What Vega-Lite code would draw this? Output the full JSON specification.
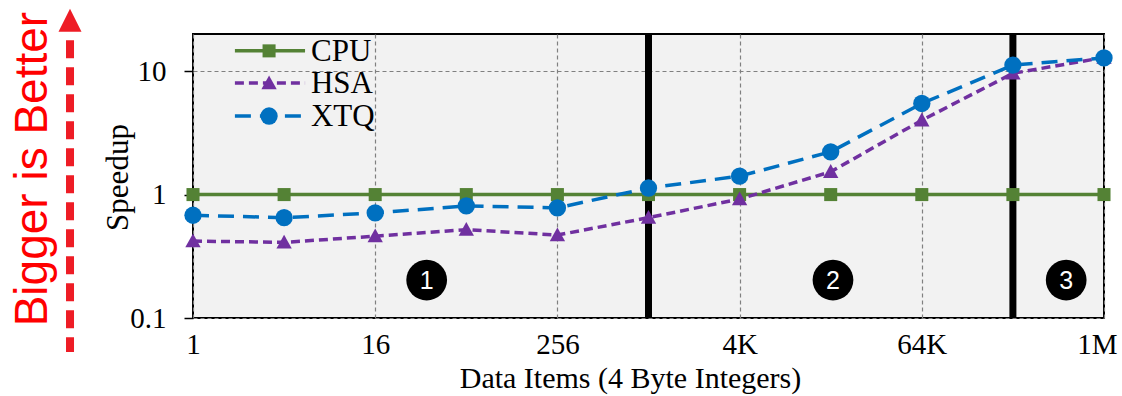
{
  "$schema": "https://vega.github.io/schema/vega-lite/v6.json",
  "width": 911,
  "height": 284,
  "autosize": "none",
  "padding": {"left": 193, "top": 34, "right": 18, "bottom": 78},
  "background": "white",
  "config": {
    "view": {"fill": "#F2F2F2", "stroke": "black", "strokeWidth": 2},
    "font": "Liberation Serif"
  },
  "datasets": {
    "series": [
      {"s": "CPU", "n": 0, "v": 1}, {"s": "CPU", "n": 2, "v": 1}, {"s": "CPU", "n": 4, "v": 1},
      {"s": "CPU", "n": 6, "v": 1}, {"s": "CPU", "n": 8, "v": 1}, {"s": "CPU", "n": 10, "v": 1},
      {"s": "CPU", "n": 12, "v": 1}, {"s": "CPU", "n": 14, "v": 1}, {"s": "CPU", "n": 16, "v": 1},
      {"s": "CPU", "n": 18, "v": 1}, {"s": "CPU", "n": 20, "v": 1},
      {"s": "HSA", "n": 0, "v": 0.42}, {"s": "HSA", "n": 2, "v": 0.41}, {"s": "HSA", "n": 4, "v": 0.46},
      {"s": "HSA", "n": 6, "v": 0.52}, {"s": "HSA", "n": 8, "v": 0.47}, {"s": "HSA", "n": 10, "v": 0.65},
      {"s": "HSA", "n": 12, "v": 0.92}, {"s": "HSA", "n": 14, "v": 1.53}, {"s": "HSA", "n": 16, "v": 4.0},
      {"s": "HSA", "n": 18, "v": 9.6}, {"s": "HSA", "n": 20, "v": 12.9},
      {"s": "XTQ", "n": 0, "v": 0.68}, {"s": "XTQ", "n": 2, "v": 0.65}, {"s": "XTQ", "n": 4, "v": 0.71},
      {"s": "XTQ", "n": 6, "v": 0.81}, {"s": "XTQ", "n": 8, "v": 0.78}, {"s": "XTQ", "n": 10, "v": 1.13},
      {"s": "XTQ", "n": 12, "v": 1.41}, {"s": "XTQ", "n": 14, "v": 2.22}, {"s": "XTQ", "n": 16, "v": 5.47},
      {"s": "XTQ", "n": 18, "v": 11.2}, {"s": "XTQ", "n": 20, "v": 12.8}
    ],
    "bounds": [{"n": 10, "v": 0.1, "v2": 20}, {"n": 18, "v": 0.1, "v2": 20}],
    "regions": [
      {"n": 5.13, "v": 0.203, "label": "1"},
      {"n": 14.05, "v": 0.203, "label": "2"},
      {"n": 19.17, "v": 0.203, "label": "3"}
    ],
    "legendLines": [
      {"s": "CPU", "n": 0.92, "n2": 2.46, "v": 14.6},
      {"s": "HSA", "n": 0.92, "n2": 2.46, "v": 8.0},
      {"s": "XTQ", "n": 0.92, "n2": 2.46, "v": 4.33}
    ],
    "legendMarks": [
      {"s": "CPU", "n": 1.67, "v": 14.6},
      {"s": "HSA", "n": 1.67, "v": 8.0},
      {"s": "XTQ", "n": 1.67, "v": 4.33}
    ],
    "legendText": [
      {"s": "CPU", "n": 2.59, "v": 14.6},
      {"s": "HSA", "n": 2.59, "v": 8.0},
      {"s": "XTQ", "n": 2.59, "v": 4.33}
    ],
    "note": [{"n": -3.205, "v": 1.609, "text": "Bigger is Better"}],
    "arrow": [{"n": -2.7, "v": 17.8, "v2": 0.0531}],
    "arrowTip": [{"n": -2.7, "v": 25.9}]
  },
  "encoding": {
    "x": {
      "field": "n", "type": "quantitative",
      "scale": {"domain": [0, 20], "nice": false, "zero": false},
      "axis": {
        "values": [0, 4, 8, 12, 16, 20],
        "labelExpr": "datum.value == 0 ? '1' : datum.value == 4 ? '16' : datum.value == 8 ? '256' : datum.value == 12 ? '4K' : datum.value == 16 ? '64K' : '1M'",
        "labelFlush": false, "labelOverlap": false, "labelBound": false,
        "labelOffset": {"condition": {"test": "datum.value == 20", "value": -7}, "value": 0},
        "grid": true, "gridDash": [4, 3], "gridColor": "#808080", "gridWidth": 1.2,
        "ticks": false, "domain": false,
        "labelFontSize": 29, "labelColor": "black", "labelPadding": 12,
        "title": "Data Items (4 Byte Integers)", "titleFontSize": 30, "titleFontWeight": "normal",
        "titleColor": "black", "titleBaseline": "alphabetic", "titleY": 69, "titleX": 437
      }
    },
    "y": {
      "field": "v", "type": "quantitative",
      "scale": {"type": "log", "domain": [0.1, 20], "nice": false},
      "axis": {
        "values": [0.1, 1, 10],
        "labelExpr": "datum.value < 0.5 ? '0.1' : datum.value < 5 ? '1' : '10'",
        "grid": true, "gridDash": [4, 3], "gridColor": "#808080", "gridWidth": 1.2,
        "tickSize": 9, "tickColor": "black", "tickWidth": 1.5, "domain": false,
        "labelFontSize": 29, "labelColor": "black", "labelPadding": 18,
        "title": "Speedup", "titleFontSize": 31, "titleFontWeight": "normal", "titleColor": "black",
        "titleAngle": 270, "titleBaseline": "alphabetic", "titleAlign": "center", "titleX": -66, "titleY": 143
      }
    }
  },
  "layer": [
    {
      "data": {"name": "bounds"},
      "mark": {"type": "rule", "color": "black", "strokeWidth": 7},
      "encoding": {"y2": {"field": "v2"}}
    },
    {
      "data": {"name": "series"},
      "mark": {"type": "line", "strokeWidth": 3.5},
      "encoding": {
        "color": {"field": "s", "type": "nominal", "scale": {"domain": ["CPU", "HSA", "XTQ"], "range": ["#548235", "#7030A0", "#0070C0"]}, "legend": null},
        "strokeDash": {"field": "s", "type": "nominal", "scale": {"domain": ["CPU", "HSA", "XTQ"], "range": [[1, 0], [9, 5], [16, 9]]}, "legend": null}
      }
    },
    {
      "data": {"name": "series"},
      "mark": {"type": "point", "filled": true, "opacity": 1},
      "encoding": {
        "color": {"field": "s", "type": "nominal", "legend": null},
        "shape": {"field": "s", "type": "nominal", "scale": {"domain": ["CPU", "HSA", "XTQ"], "range": ["square", "M-1,0.8L0,-1L1,0.8Z", "circle"]}, "legend": null},
        "size": {"field": "s", "type": "ordinal", "scale": {"domain": ["CPU", "HSA", "XTQ"], "range": [170, 300, 190]}, "legend": null}
      }
    },
    {
      "data": {"name": "legendLines"},
      "mark": {"type": "rule", "strokeWidth": 3.5},
      "encoding": {
        "x2": {"field": "n2"},
        "color": {"field": "s", "type": "nominal", "legend": null},
        "strokeDash": {"field": "s", "type": "nominal", "legend": null}
      }
    },
    {
      "data": {"name": "legendMarks"},
      "mark": {"type": "point", "filled": true, "opacity": 1},
      "encoding": {
        "color": {"field": "s", "type": "nominal", "legend": null},
        "shape": {"field": "s", "type": "nominal", "legend": null},
        "size": {"field": "s", "type": "ordinal", "legend": null}
      }
    },
    {
      "data": {"name": "legendText"},
      "mark": {"type": "text", "font": "Liberation Serif", "fontSize": 31, "align": "left", "baseline": "middle", "color": "black", "dy": 1},
      "encoding": {"text": {"field": "s"}}
    },
    {
      "data": {"name": "regions"},
      "mark": {"type": "point", "shape": "circle", "filled": true, "color": "black", "opacity": 1, "size": 1660}
    },
    {
      "data": {"name": "regions"},
      "mark": {"type": "text", "font": "Liberation Sans", "fontSize": 25, "align": "center", "baseline": "middle", "color": "white", "dy": 1},
      "encoding": {"text": {"field": "label"}}
    },
    {
      "data": {"name": "arrow"},
      "mark": {"type": "rule", "color": "#EE1C25", "strokeWidth": 8, "strokeDash": [18, 9]},
      "encoding": {"y2": {"field": "v2"}}
    },
    {
      "data": {"name": "arrowTip"},
      "mark": {"type": "point", "shape": "M-1,1L0,-1L1,1Z", "filled": true, "color": "#EE1C25", "opacity": 1, "size": 530}
    },
    {
      "data": {"name": "note"},
      "mark": {"type": "text", "font": "Liberation Sans", "fontSize": 46, "angle": 270, "align": "center", "baseline": "alphabetic", "color": "#FF0000"},
      "encoding": {"text": {"field": "text"}}
    }
  ]
}
